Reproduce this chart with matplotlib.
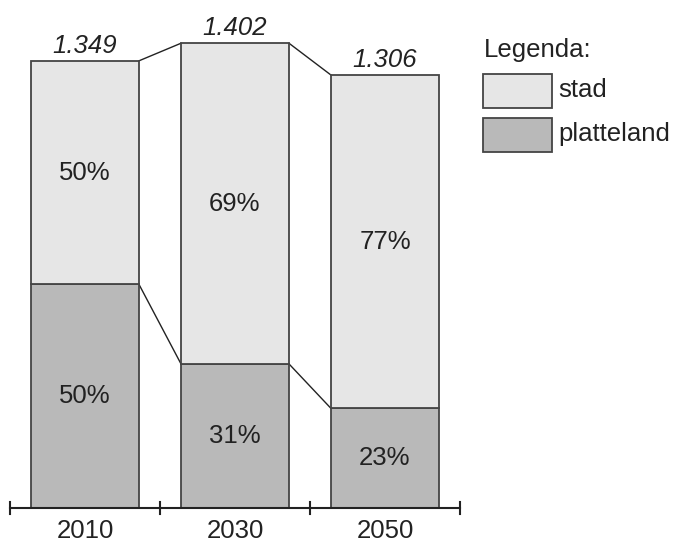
import matplotlib.pyplot as plt
from matplotlib.patches import Rectangle

plt.rcParams['font.family'] = ['Liberation Sans', 'DejaVu Sans']

years = ['2010', '2030', '2050']
totals = [1.349, 1.402, 1.306]
stad_pct = [50, 69, 77]
platteland_pct = [50, 31, 23]

col_stad = '#e6e6e6'
col_platteland = '#b9b9b9'
edge = '#444444'
width = 0.72
fs = 18.5

fig = plt.figure(figsize=(6.77, 5.43), dpi=100)
ax = fig.add_axes([0, 0, 1, 1])
ax.set_xlim(-85 / 150, (677 - 85) / 150)
ax.set_ylim(-35 / 331.5, 508 / 331.5)
ax.axis('off')

x = list(range(len(years)))
low = [t * p / 100 for t, p in zip(totals, platteland_pct)]
high = [t * p / 100 for t, p in zip(totals, stad_pct)]

# stacked bars
ax.bar(x, low, width=width, color=col_platteland, edgecolor=edge, linewidth=1.3, zorder=2)
ax.bar(x, high, bottom=low, width=width, color=col_stad, edgecolor=edge, linewidth=1.3, zorder=2)

# connector lines between bars
for i in range(len(x) - 1):
    ax.plot([x[i] + width / 2, x[i + 1] - width / 2], [totals[i], totals[i + 1]],
            color='#222222', lw=1, zorder=1)
    ax.plot([x[i] + width / 2, x[i + 1] - width / 2], [low[i], low[i + 1]],
            color='#222222', lw=1, zorder=1)

# labels
for i in x:
    ax.annotate(f'{totals[i]:.3f}', (x[i], totals[i]), xytext=(0, 2),
                textcoords='offset points', ha='center', va='bottom',
                fontsize=fs, style='italic', color='#222222')
    ax.text(x[i], low[i] + high[i] / 2, f'{stad_pct[i]}%', ha='center', va='center',
            fontsize=fs, color='#222222')
    ax.text(x[i], low[i] / 2, f'{platteland_pct[i]}%', ha='center', va='center',
            fontsize=fs, color='#222222')
    ax.annotate(years[i], (x[i], 0), xytext=(0, -8), textcoords='offset points',
                ha='center', va='top', fontsize=fs, color='#222222')

# bottom axis with ticks between categories
ax.plot([-0.5, len(x) - 0.5], [0, 0], color='#222222', lw=1.5, zorder=3)
tick_h = 6 / 331.5
for t in [i - 0.5 for i in range(len(x) + 1)]:
    ax.plot([t, t], [-tick_h, tick_h], color='#222222', lw=1.5, zorder=3)

# legend
fig.text(484 / 677, 1 - 50 / 543, 'Legenda:', ha='left', va='center', fontsize=fs, color='#222222')
for j, (lab, c) in enumerate([('stad', col_stad), ('platteland', col_platteland)]):
    ytop = 74 + j * 44
    fig.patches.append(Rectangle((483 / 677, 1 - (ytop + 34) / 543), 69 / 677, 34 / 543,
                                 transform=fig.transFigure, facecolor=c, edgecolor=edge, lw=1.3))
    fig.text(558 / 677, 1 - (ytop + 16) / 543, lab, ha='left', va='center', fontsize=fs, color='#222222')

fig.savefig('out.png', dpi=100)
